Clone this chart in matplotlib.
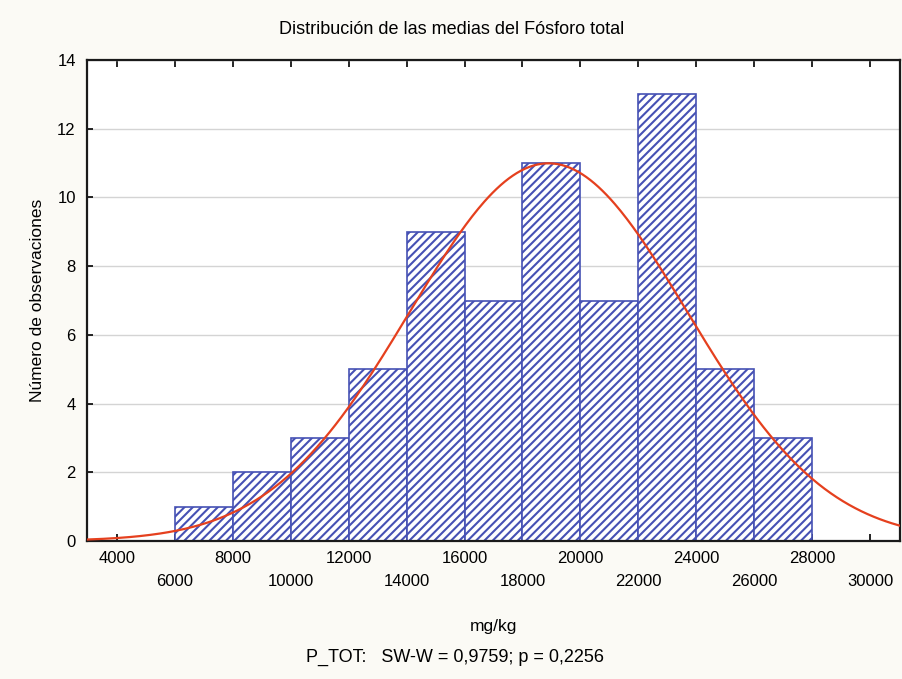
import numpy as np
import matplotlib.pyplot as plt

plt.rcParams['font.family'] = ['Liberation Sans', 'DejaVu Sans']
plt.rcParams['hatch.linewidth'] = 1.5
plt.rcParams['hatch.color'] = '#5055aa'

# histogram data
bin_edges = [6000, 8000, 10000, 12000, 14000, 16000, 18000, 20000, 22000, 24000, 26000, 28000]
counts = [1, 2, 3, 5, 9, 7, 11, 7, 13, 5, 3]

# fitted normal (mean, sd) estimated from the red curve
fit_mean = 18900
fit_sd = 4790

title = 'Distribución de las medias del Fósforo total'
xlabel = 'mg/kg'
ylabel = 'Número de observaciones'
note = 'P_TOT:   SW-W = 0,9759; p = 0,2256'

fig = plt.figure(figsize=(9.03, 6.79), dpi=100)
fig.patch.set_facecolor('#fbfaf5')
ax = fig.add_axes([0.0963, 0.2032, 0.9004, 0.7084])
ax.set_facecolor('white')

widths = np.diff(bin_edges)
ax.bar(bin_edges[:-1], counts, width=widths, align='edge', facecolor='white',
       edgecolor='#4651b4', linewidth=1.2, hatch='////', zorder=2)

n = sum(counts)
w = widths[0]
x = np.linspace(2970, 31030, 400)
y = n * w / (fit_sd * np.sqrt(2 * np.pi)) * np.exp(-0.5 * ((x - fit_mean) / fit_sd) ** 2)
ax.plot(x, y, color='#e5401e', linewidth=1.6, zorder=3)

ax.set_xlim(2970, 31030)
ax.set_ylim(0, 14)
ax.set_yticks(np.arange(0, 15, 2))
ax.yaxis.grid(True, color='#d4d4d4', linewidth=1, zorder=0)
ax.set_axisbelow(True)

ax.set_xticks(np.arange(4000, 30001, 4000))
ax.set_xticks(np.arange(6000, 30001, 4000), minor=True)
ax.set_xticklabels([str(v) for v in range(6000, 30001, 4000)], minor=True)
ax.tick_params(axis='x', which='major', direction='in', length=5, width=1.2,
               pad=7, labelsize=12, top=True)
ax.tick_params(axis='x', which='minor', direction='in', length=5, width=1.2,
               pad=24, labelsize=12, top=True)
ax.tick_params(axis='y', direction='in', length=4, width=1.2, pad=8, labelsize=12)

for sp in ax.spines.values():
    sp.set_linewidth(1.6)
    sp.set_color('#1a1a1a')

fig.text(0.5, 0.956, title, ha='center', va='center', fontsize=13)
fig.text(0.546, 0.077, xlabel, ha='center', va='center', fontsize=12.5)
fig.text(0.504, 0.032, note, ha='center', va='center', fontsize=13)
fig.text(0.041, 0.558, ylabel, ha='center', va='center', rotation=90, fontsize=12.5)

fig.savefig('out.png', dpi=100, facecolor=fig.get_facecolor())
